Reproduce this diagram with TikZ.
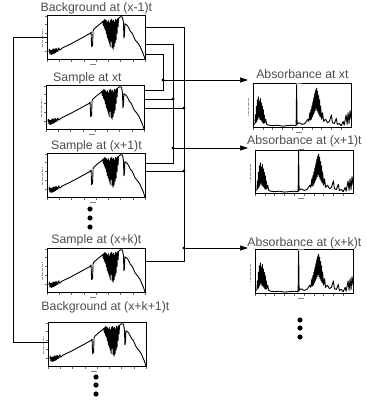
\documentclass[tikz,border=0pt]{standalone}
\usepackage{fontspec}
\setmainfont{Liberation Sans}
\usetikzlibrary{positioning,arrows.meta}

\tikzset{
  scatola/.style={draw, line width=0.8pt, minimum width=98pt, minimum height=44pt,
                  inner sep=0pt, anchor=north west},
  etichetta/.style={inner sep=0pt, text=black!70, font=\fontsize{12.3}{13}\selectfont},
  filo/.style={line width=0.7pt},
  freccia/.style={filo, -{Triangle[length=8pt,width=5pt]}},
  % spettro di emissione (riquadri a sinistra)
  spettro/.pic={
    \begin{scope}[x=98pt,y=44pt]
      \draw[line width=0.9pt, line join=round] plot coordinates {
        (0.02,0.18) (0.025,0.24) (0.03,0.13) (0.04,0.22) (0.045,0.12) (0.05,0.21)
        (0.055,0.13) (0.06,0.24) (0.065,0.14) (0.07,0.25) (0.075,0.15) (0.08,0.23)
        (0.085,0.16) (0.09,0.26) (0.095,0.18) (0.10,0.25) (0.11,0.19) (0.12,0.27)
        (0.13,0.22) (0.15,0.26) (0.25,0.37) (0.35,0.49) (0.44,0.6) (0.45,0.63)
        (0.455,0.3) (0.465,0.33) (0.47,0.66) (0.48,0.7) (0.52,0.78) (0.55,0.83)
        (0.57,0.87) (0.575,0.78) (0.58,0.9) (0.585,0.72) (0.59,0.92) (0.595,0.68)
        (0.6,0.9) (0.605,0.6) (0.61,0.88) (0.615,0.5) (0.62,0.86) (0.625,0.45)
        (0.63,0.9) (0.635,0.38) (0.64,0.84) (0.645,0.3) (0.65,0.9) (0.655,0.42)
        (0.66,0.92) (0.665,0.28) (0.67,0.88) (0.675,0.24) (0.68,0.9) (0.685,0.3)
        (0.69,0.86) (0.695,0.38) (0.7,0.92) (0.705,0.45) (0.71,0.9) (0.715,0.6)
        (0.72,0.93) (0.725,0.75) (0.73,0.94) (0.75,0.98) (0.77,0.97) (0.78,0.85)
        (0.785,0.5) (0.79,0.55) (0.795,0.82) (0.82,0.78) (0.84,0.7) (0.85,0.65)
        (0.87,0.6) (0.9,0.45) (0.93,0.37) (0.95,0.3) (0.97,0.2) (0.98,0.15) (1,0.02)};
      \foreach \t in {0,0.125,...,1} \draw[line width=0.3pt, black!60] (\t,0) -- (\t,-0.04);
      \foreach \t in {0.2,0.4,...,1} \draw[line width=0.3pt, black!60] (0,\t) -- (-0.02,\t);
      \draw[line width=0.3pt, black!40, densely dotted] (-0.05,0.3) -- (-0.05,0.7);
      \draw[line width=0.3pt, black!50] (0.44,-0.1) -- (0.5,-0.1);
    \end{scope}
  },
  % spettro di assorbanza (riquadri a destra)
  assorbanza/.pic={
    \begin{scope}[x=98pt,y=43pt]
      \draw[line width=0.9pt, line join=round] plot coordinates {
        (0.01,0.08) (0.02,0.1) (0.025,0.3) (0.03,0.12) (0.035,0.5) (0.04,0.15)
        (0.045,0.65) (0.05,0.2) (0.055,0.72) (0.06,0.25) (0.065,0.62) (0.07,0.2)
        (0.075,0.68) (0.08,0.18) (0.085,0.58) (0.09,0.15) (0.095,0.5) (0.1,0.12)
        (0.105,0.42) (0.11,0.1) (0.115,0.3) (0.12,0.12) (0.13,0.2) (0.14,0.08)
        (0.16,0.06) (0.2,0.05) (0.25,0.06) (0.3,0.04) (0.35,0.05) (0.4,0.06)
        (0.44,0.05) (0.445,1) (0.45,0.08) (0.47,0.12) (0.5,0.08) (0.53,0.1)
        (0.56,0.2) (0.57,0.15) (0.58,0.35) (0.585,0.18) (0.59,0.42) (0.595,0.2)
        (0.6,0.5) (0.605,0.25) (0.61,0.6) (0.615,0.3) (0.62,0.7) (0.625,0.35)
        (0.63,0.8) (0.635,0.4) (0.64,0.88) (0.645,0.45) (0.65,0.92) (0.655,0.4)
        (0.66,0.85) (0.665,0.35) (0.67,0.75) (0.675,0.3) (0.68,0.65) (0.685,0.25)
        (0.69,0.5) (0.7,0.2) (0.71,0.35) (0.72,0.15) (0.74,0.2) (0.76,0.12)
        (0.78,0.15) (0.8,0.3) (0.81,0.12) (0.83,0.1) (0.85,0.22) (0.86,0.08)
        (0.88,0.1) (0.9,0.05) (0.92,0.15) (0.93,0.06) (0.95,0.3) (0.96,0.08)
        (0.97,0.35) (0.98,0.1) (0.99,0.4) (1,0.2)};
      \foreach \t in {0,0.1,...,1} \draw[line width=0.3pt, black!60] (\t,0) -- (\t,-0.04);
      \draw[line width=0.3pt, black!40, densely dotted] (-0.05,0.3) -- (-0.05,0.7);
      \draw[line width=0.3pt, black!50] (0.44,-0.1) -- (0.5,-0.1);
      \draw[line width=0.3pt, black!50] (0.44,1.04) -- (0.5,1.04);
    \end{scope}
  }
}

\begin{document}
\begin{tikzpicture}[x=1pt,y=-1pt]
    \useasboundingbox (0,0) rectangle (366,406);

    % Riquadri degli spettri misurati
    \node[scatola] (b1) at (47,15) {};
    \node[scatola] (b2) at (46,85) {};
    \node[scatola] (b3) at (47,153) {};
    \node[scatola] (b4) at (47,248) {};
    \node[scatola] (b5) at (48,322) {};
    \foreach \b in {b1,b2,b3,b4,b5} \pic at (\b.south west) {spettro};

    % Riquadri delle assorbanze
    \node[scatola] (a1) at (253,83) {};
    \node[scatola, minimum height=43pt] (a2) at (255,150) {};
    \node[scatola] (a3) at (255,249) {};
    \foreach \a in {a1,a2,a3} \pic at (\a.south west) {assorbanza};

    % Etichette
    \node[etichetta, above=1pt of b1] (tb1) {Background at (x-1)t};
    \node[etichetta, above=1pt of b2, xshift=-8pt] (tb2) {Sample at xt};
    \node[etichetta, above=1pt of b3] (tb3) {Sample at (x+1)t};
    \node[etichetta, above=2pt of b4] (tb4) {Sample at (x+k)t};
    \node[etichetta, above=9pt of b5, xshift=8pt] (tb5) {Background at (x+k+1)t};
    \node[etichetta, above=4pt of a1] (ta1) {Absorbance at xt};
    \node[etichetta, above=3pt of a2] (ta2) {Absorbance at (x+1)t};
    \node[etichetta, above=0pt of a3] (ta3) {Absorbance at (x+k)t};

    % Punti di raccordo
    \coordinate (j1) at (163,80);
    \coordinate (j2) at (173,99);
    \coordinate (j3) at (184,108);
    \coordinate (j4) at (173,148);
    \coordinate (j5) at (184,171);
    \coordinate (j6) at (184,248);

    % Assorbanza a xt
    \draw[filo] ([yshift=-39pt]b1.north east) -| (j1);
    \draw[filo] ([yshift=-5pt]b2.north east) -| (j1);
    \draw[freccia] (j1) -- ([xshift=-5pt]j1 -| a1.west);

    % Assorbanza a (x+1)t
    \draw[filo] ([yshift=-29pt]b1.north east) -| (j4);
    \draw[filo] (j2 -| b2.east) -- (j2);
    \draw[filo] ([yshift=-10pt]b3.north east) -| (j4);
    \draw[freccia] (j4) -- ([xshift=-7pt]j4 -| a2.west);

    % Assorbanza a (x+k)t
    \draw[filo] ([yshift=-12pt]b1.north east) -| (j6);
    \draw[filo] (j3 -| b2.east) -- (j3);
    \draw[filo] (j5 -| b3.east) -- (j5);
    \draw[filo] ([yshift=-13pt]b4.north east) -| (j6);
    \draw[freccia] (j6) -- ([xshift=-7pt]j6 -| a3.west);

    \foreach \j in {j1,j2,j3,j4,j5,j6} \fill (\j) circle (1.7pt);

    % Ritorno al background successivo
    \draw[filo] ([yshift=-22pt]b1.north west) -- ++(-34,0) |- ([yshift=-20pt]b5.north west);

    % Puntini di continuazione
    \foreach \y in {209,218,227} \fill (90,\y) circle (2.6pt);
    \foreach \y in {377,385,394} \fill (96,\y) circle (2.6pt);
    \foreach \y in {320,328,337} \fill (300,\y) circle (2.6pt);
\end{tikzpicture}
\end{document}
